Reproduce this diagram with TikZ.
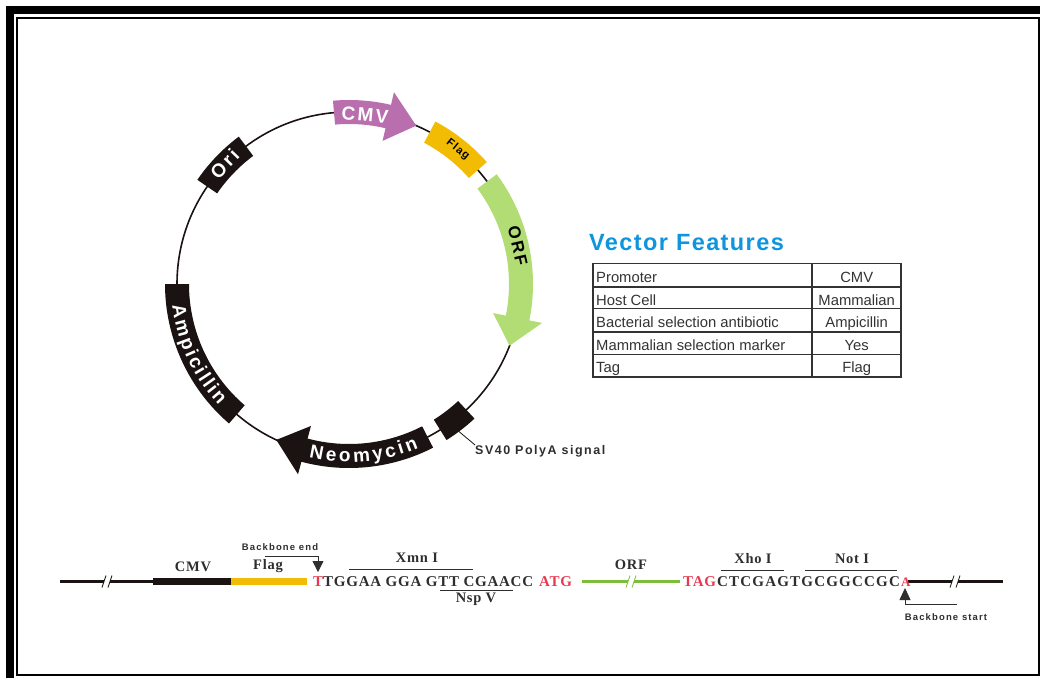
\documentclass[tikz,border=0pt]{standalone}
\usepackage{fontspec}
\usepackage{xcolor}
\setmainfont{Liberation Serif}
\setsansfont{Liberation Sans}
\newfontfamily\seqfont[LetterSpace=5]{Liberation Serif}
\newfontfamily\widefont[LetterSpace=12]{Liberation Sans}
\newfontfamily\titlefont[LetterSpace=6]{Liberation Sans}
\usetikzlibrary{arrows.meta, decorations.text}

\definecolor{cmvpurple}{HTML}{B96FAE}
\definecolor{flagyellow}{HTML}{F2BC05}
\definecolor{orfgreen}{HTML}{B2DC74}
\definecolor{linegreen}{HTML}{7CBD3C}
\definecolor{titleblue}{HTML}{0E95DC}
\definecolor{seqred}{HTML}{E8384F}
\definecolor{featblack}{HTML}{1A1311}
\definecolor{seqgrey}{HTML}{2E2E2E}

% band on the ring: from, to, colour
\newcommand{\featband}[3]{\fill[#3] (#1:160) arc[start angle=#1, end angle=#2, radius=160] -- (#2:184) arc[start angle=#2, end angle=#1, radius=184] -- cycle;}
% arrow on the ring: from, head base, tip, colour
\newcommand{\featarrow}[4]{\fill[#4] (#1:160) arc[start angle=#1, end angle=#2, radius=160] -- (#2:147) -- (#3:172) -- (#2:197) -- (#2:184) arc[start angle=#2, end angle=#1, radius=184] -- cycle;}
% white text bent along the ring
\newcommand{\curvefont}{\sffamily\bfseries\fontsize{19}{19}\selectfont\color{white}}
\newcommand{\curvelabel}[4]{\path[decorate, decoration={text along path, text={|\curvefont|#4}, text align={fit to path}}] (#1:#3) arc[start angle=#1, end angle=#2, radius=#3];}
% gap with two slashes in a line: x, y, colour
\newcommand{\seqbreak}[3]{\fill[white] (#1-3,#2-3) rectangle (#1+3,#2+3);
    \draw[#3, line width=0.8] (#1-5,#2-6) -- (#1-1,#2+6) (#1+1,#2-6) -- (#1+5,#2+6);}

\begin{document}
\begin{tikzpicture}[
    x=1pt, y=1pt,
    featlabel/.style = {font=\widefont\bfseries\fontsize{19}{19}\selectfont, inner sep=0pt},
    smallsans/.style = {font=\widefont\bfseries\fontsize{9.5}{9.5}\selectfont, text=seqgrey, inner sep=0pt},
    seqtext/.style = {font=\seqfont\bfseries\fontsize{15}{15}\selectfont, text=seqgrey, inner sep=0pt, anchor=base west},
    seqred/.style = {seqtext, text=seqred},
    sitelabel/.style = {font=\seqfont\bfseries\fontsize{14.5}{14.5}\selectfont, text=seqgrey, inner sep=0pt},
    rowlabel/.style = {font=\sffamily\fontsize{14.8}{14.8}\selectfont, text=black!80, inner sep=0pt, anchor=base west},
    rowvalue/.style = {font=\sffamily\fontsize{14.8}{14.8}\selectfont, text=black!80, inner sep=0pt, anchor=base}
]
\useasboundingbox (0,0) rectangle (1040,-677);

% frame
\draw[line width=8] (10,-10) rectangle (1060,-700);
\draw[line width=2.5] (17,-18) rectangle (1039,-675);

% plasmid ring
\begin{scope}[shift={(349,-284)}]
\draw[line width=1.6, featblack] (0,0) circle (172);

\featarrow{95}{76.8}{67}{cmvpurple}
\featband{62}{41.5}{flagyellow}
\featarrow{36.6}{-11.4}{-21}{orfgreen}
\featband{-47}{-58}{featblack}
\featarrow{-62.8}{-105}{-115}{featblack}
\featband{-130.7}{-180}{featblack}
\featband{126.8}{145.5}{featblack}

\node[featlabel, text=white, rotate=-5] (cmvname) at (84.6:170) {CMV};
\node[featlabel, rotate=-39, font=\widefont\bfseries\fontsize{11}{11}\selectfont] (flagname) at (51:173) {Flag};
\node[featlabel, rotate=-77, font=\widefont\bfseries\fontsize{17}{17}\selectfont] (orfname) at (12.7:173) {ORF};
\node[featlabel, text=white, rotate=46] (oriname) at (136:173) {Ori};
\curvelabel{187}{223}{178}{Ampicillin}
\curvelabel{-103}{-67}{178}{Neomycin}

\coordinate (sv40tip) at (-54:175);
\end{scope}

\node[smallsans, anchor=west, font=\widefont\bfseries\fontsize{12.5}{12.5}\selectfont] (sv40name) at (475,-451) {SV40 PolyA signal};
\draw[line width=0.8, featblack] (sv40tip) -- (sv40name.north west);

% feature table
\node[font=\titlefont\bfseries\fontsize{23.5}{23.5}\selectfont, text=titleblue, inner sep=0pt, anchor=base west] (title) at (589,-250) {Vector Features};

\draw[line width=1.2, black!80] (593,-263.5) rectangle (901,-377);
\foreach \ypos in {287, 308.5, 332, 354.5}
    \draw[line width=1.2, black!80] (593,-\ypos) -- (901,-\ypos);
\draw[line width=1.2, black!80] (812,-263.5) -- (812,-377);

\node[rowlabel] (promoter) at (596,-282) {Promoter};
\node[rowlabel] (hostcell) at (596,-305) {Host Cell};
\node[rowlabel] (bacterial) at (596,-327.7) {Bacterial selection antibiotic};
\node[rowlabel] (mammalian) at (596,-350) {Mammalian selection marker};
\node[rowlabel] (tag) at (596,-372.7) {Tag};
\node[rowvalue] (promoterval) at (856.7,-282) {CMV};
\node[rowvalue] (hostcellval) at (856.7,-305) {Mammalian};
\node[rowvalue] (bacterialval) at (856.7,-327.7) {Ampicillin};
\node[rowvalue] (mammalianval) at (856.7,-350) {Yes};
\node[rowvalue] (tagval) at (856.7,-372.7) {Flag};

% construct map
\coordinate (leftend) at (60,-581.5);
\coordinate (cmvstart) at (153,-581.5);
\coordinate (flagstart) at (231,-581.5);
\coordinate (flagend) at (307,-581.5);
\coordinate (orfstart) at (582,-581.5);
\coordinate (orfend) at (680,-581.5);
\coordinate (bonestart) at (908,-581.5);
\coordinate (rightend) at (1003,-581.5);

\draw[line width=3, featblack] (leftend) -- (cmvstart);
\seqbreak{107}{-581.5}{featblack}
\draw[line width=6.5, featblack] (cmvstart) -- (flagstart);
\draw[line width=6.5, flagyellow] (flagstart) -- (flagend);
\draw[line width=3.5, linegreen] (orfstart) -- (orfend);
\seqbreak{631}{-581.5}{linegreen}
\draw[line width=3, featblack] (bonestart) -- (rightend);
\seqbreak{955}{-581.5}{featblack}

\node[sitelabel] (cmvtitle) at (193,-567) {CMV};
\node[sitelabel] (flagtitle) at (268,-566) {Flag};
\node[sitelabel] (orftitle) at (631,-565) {ORF};

\node[seqred] (firstbase) at (313,-586) {T};
\node[seqtext] (seqleft) at (323,-586) {TGGAA GGA GTT CGAACC};
\node[seqred] (startcodon) at (539,-586) {ATG};
\node[seqred] (stopcodon) at (683,-586) {TAG};
\node[seqtext, font=\seqfont\addfontfeature{LetterSpace=8}\bfseries\fontsize{15}{15}\selectfont] (seqright) at (717,-586) {CTCGAGTGCGGCCGC};
\node[seqred, font=\seqfont\bfseries\fontsize{13}{13}\selectfont] (lastbase) at (901,-586) {A};

% restriction sites
\coordinate (xmnleft) at (349,-569);
\coordinate (xmnright) at (473,-569);
\coordinate (nspleft) at (440,-590.5);
\coordinate (nspright) at (513,-590.5);
\coordinate (xholeft) at (721,-570);
\coordinate (xhoright) at (784,-570);
\coordinate (notleft) at (805,-570);
\coordinate (notright) at (897,-570);
\draw[line width=0.8, seqgrey] (xmnleft) -- (xmnright);
\draw[line width=0.8, seqgrey] (nspleft) -- (nspright);
\draw[line width=0.8, seqgrey] (xholeft) -- (xhoright);
\draw[line width=0.8, seqgrey] (notleft) -- (notright);
\node[sitelabel] (xmn) at (417,-558) {Xmn I};
\node[sitelabel] (nsp) at (476,-599) {Nsp V};
\node[sitelabel] (xho) at (753,-559) {Xho I};
\node[sitelabel] (notsite) at (852,-559) {Not I};

% backbone marks
\node[smallsans] (boneend) at (280,-547) {Backbone end};
\node[smallsans] (bonebegin) at (946,-617) {Backbone start};
\coordinate (endfoot) at (265,-556);
\coordinate (endtip) at (318,-572);
\coordinate (startfoot) at (957,-604.5);
\coordinate (starttip) at (905,-588);
\draw[-{Triangle[width=11,length=11]}, line width=0.8, seqgrey] (endfoot) -| (endtip);
\draw[-{Triangle[width=11,length=12]}, line width=0.8, seqgrey] (startfoot) -| (starttip);

\end{tikzpicture}
\end{document}
